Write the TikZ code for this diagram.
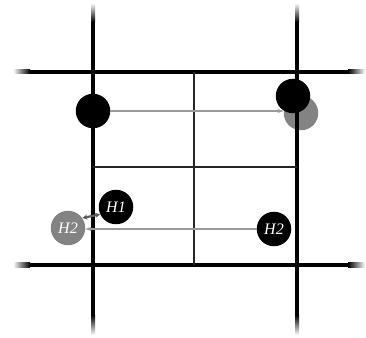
\documentclass[tikz,border=0pt]{standalone}
\usepackage{fontspec}
\setmainfont{Liberation Serif}
\usepackage{tikz}
\usetikzlibrary{arrows.meta}
\definecolor{shadow}{HTML}{838383}
\definecolor{trace}{HTML}{9A9A9A}
\definecolor{hop}{HTML}{5E5E5E}

\begin{document}
\begin{tikzpicture}[x=1pt,y=1pt,font=\fontsize{16}{16}\selectfont\itshape,
     wall/.style={line width=4pt,black},
     cell/.style={line width=1.3pt,black!85},
     atom/.style={circle,fill=black,text=white,minimum size=34.5pt,inner sep=0pt},
     ghost/.style={circle,fill=shadow,text=white,minimum size=34.5pt,inner sep=0pt},
     move/.style={trace,line width=1.2pt,-{Stealth[length=6pt,width=4pt]}},
     swap/.style={hop,line width=2.2pt,{Stealth[length=5pt,width=5pt]}-{Stealth[length=5pt,width=5pt]}}]
    \useasboundingbox[fill=white] (0,0) rectangle (366,337);
    % shifted images (behind the walls)
    \node[ghost](g1) at (301,224){};
    \node[ghost](g2) at (68,109){H2};
    % thick cell walls with faded ends
    \foreach \y in {72,265}{
      \draw[wall] (30,\y) -- (348,\y);
      \shade[left color=white,right color=black] (13,\y-2) rectangle (30,\y+2);
      \shade[left color=black,right color=white] (348,\y-2) rectangle (365,\y+2);}
    \foreach \x in {93,297}{
      \draw[wall] (\x,22) -- (\x,315);
      \shade[top color=black,bottom color=white] (\x-2,2) rectangle (\x+2,22);
      \shade[top color=white,bottom color=black] (\x-2,315) rectangle (\x+2,334);}
    % sub-cells
    \draw[cell] (194,72) -- (194,265);
    \draw[cell] (93,170) -- (297,170);
    % atoms
    \node[atom](a1) at (93,226){};
    \node[atom](a2) at (293,241){};
    \node[atom](h1) at (116,130){H1};
    \node[atom](h2) at (274,108){H2};
    % displacements
    \draw[move] (a1.east) -- (a1 -| g1.west);
    \draw[move] (h2.west) -- (h2 -| g2.east);
    \draw[swap] (g2.35) -- (h1.205);
\end{tikzpicture}
\end{document}
